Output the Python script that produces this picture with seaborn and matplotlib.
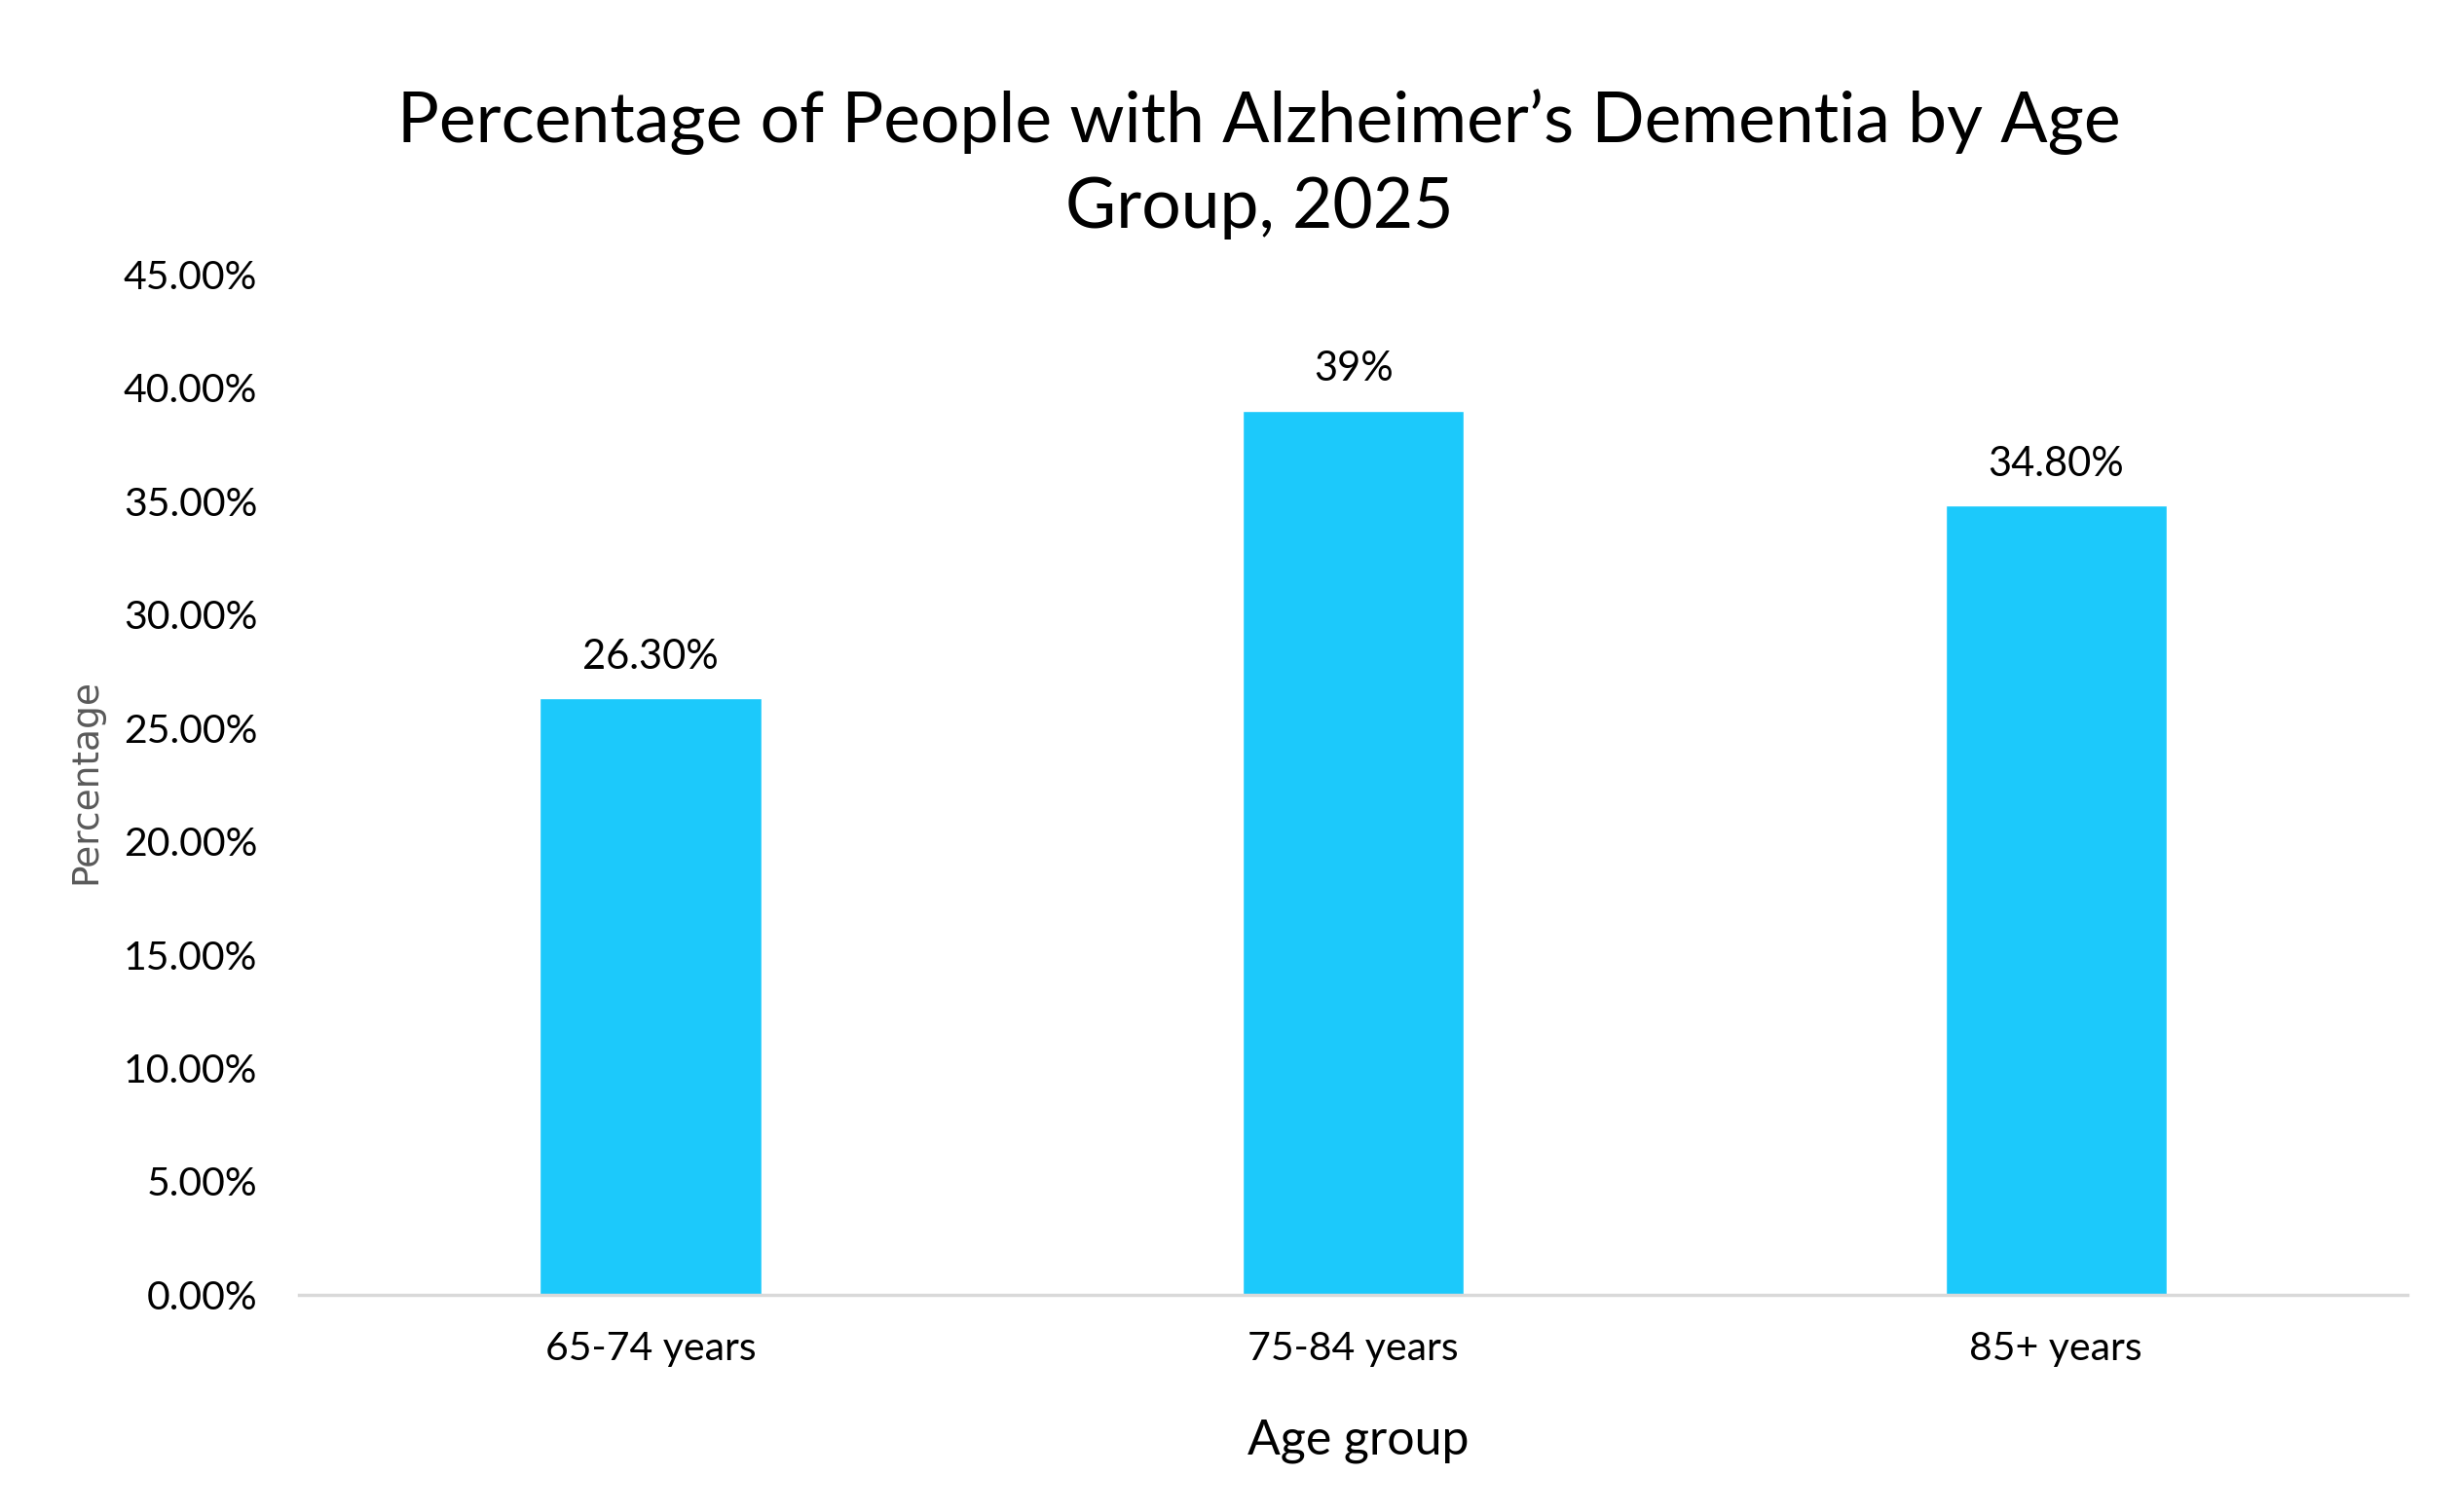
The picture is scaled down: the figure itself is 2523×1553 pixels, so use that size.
import matplotlib
matplotlib.use('Agg')
import matplotlib.pyplot as plt
import seaborn as sns
import pandas as pd
from matplotlib.ticker import FuncFormatter, MultipleLocator

categories = ["65-74 years", "75-84 years", "85+ years"]
values = [26.3, 39.0, 34.8]
value_labels = ["26.30%", "39%", "34.80%"]
title = "Percentage of People with Alzheimer\u2019s Dementia by Age\nGroup, 2025"

sns.set_theme(style='white')
plt.rcParams['font.family'] = ['Lato', 'DejaVu Sans']

fig = plt.figure(figsize=(25.23, 15.53), dpi=100)
ax = fig.add_axes([0.1218, 0.1437, 0.8580, 0.6748])
df = pd.DataFrame({'Age group': categories, 'Percentage': values})
sns.barplot(data=df, x='Age group', y='Percentage', color='#1CC9FB',
            width=0.315, saturation=1, ax=ax)

ax.set_xlim(-0.5, len(categories) - 0.5)
ax.set_ylim(0, 45)
ax.yaxis.set_major_locator(MultipleLocator(5))
ax.yaxis.set_major_formatter(FuncFormatter(lambda v, p: f"{v:.2f}%"))
ax.tick_params(axis='both', length=0, labelsize=29.5, colors='black')
ax.tick_params(axis='x', pad=27)
ax.tick_params(axis='y', pad=31)
for s in ['top', 'right', 'left']:
    ax.spines[s].set_visible(False)
ax.spines['bottom'].set_color('#D9D9D9')
ax.spines['bottom'].set_linewidth(2.5)

for i, (v, lab) in enumerate(zip(values, value_labels)):
    ax.annotate(lab, xy=(i, v), xytext=(0, 22), textcoords='offset points',
                ha='center', va='baseline', fontsize=30, color='black')

ax.set_xlabel('')
ax.set_ylabel('')
fig.text(0.553, 0.047, 'Age group', ha='center', va='center', fontsize=36, color='black')
fig.text(0.035, 0.483, 'Percentage', rotation=90, ha='center', va='center',
         fontsize=27, color='#595959', family=['DejaVu Sans'])
fig.text(0.5125, 0.8914, title, ha='center', va='center', fontsize=51.5,
         color='black', linespacing=1.42)

fig.savefig('out.png', dpi=100)
